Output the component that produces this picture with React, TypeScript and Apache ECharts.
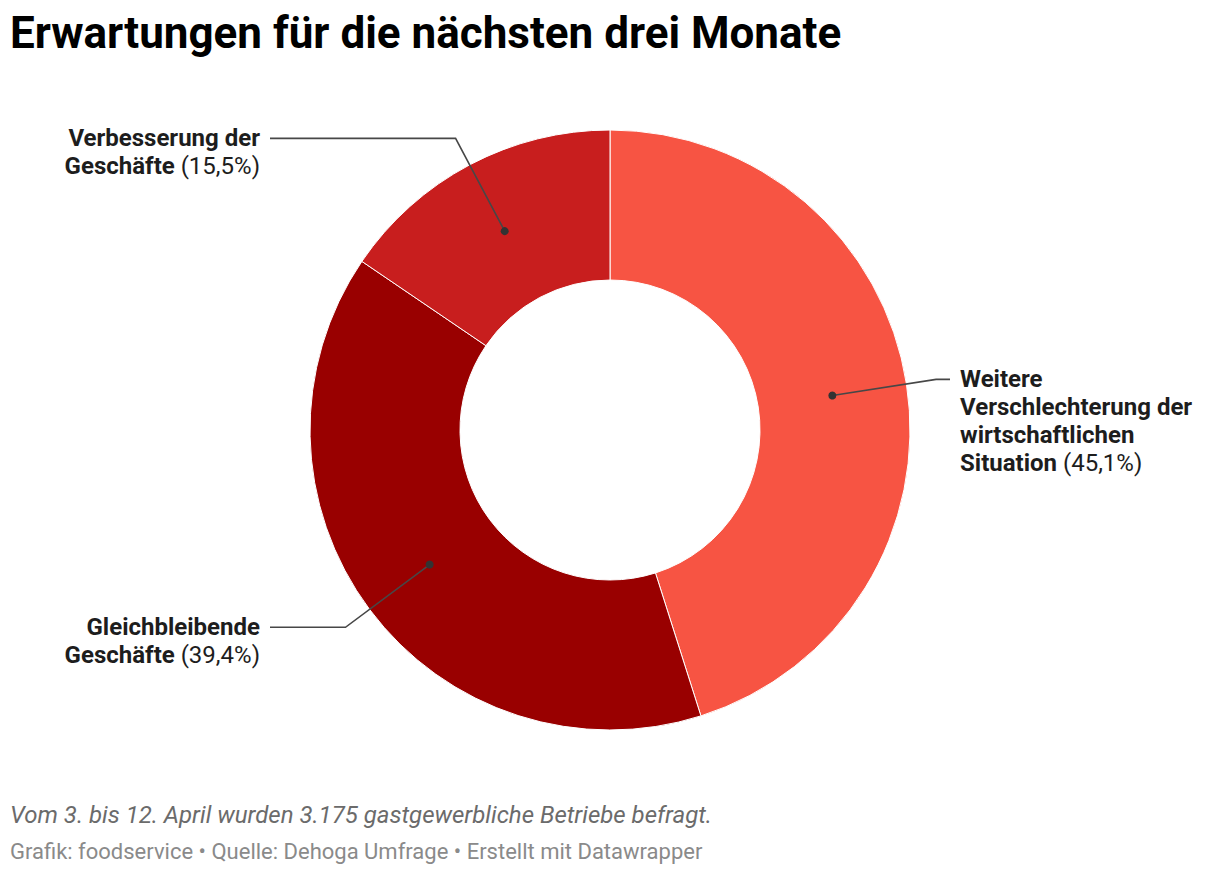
import { useEffect, useRef } from "react";
import * as echarts from "echarts";

// Werte aus der Grafik (Uhrzeigersinn ab 12 Uhr)
const categories = [
  "Weitere\nVerschlechterung der\nwirtschaftlichen\nSituation",
  "Gleichbleibende\nGeschäfte",
  "Verbesserung der\nGeschäfte",
];
const shares = [45.1, 39.4, 15.5];
const sliceColors = ["#f75443", "#990000", "#c81e1e"];

const titleText = "Erwartungen für die nächsten drei Monate";
const noteText = "Vom 3. bis 12. April wurden 3.175 gastgewerbliche Betriebe befragt.";
const sourceText = "Grafik: foodservice • Quelle: Dehoga Umfrage • Erstellt mit Datawrapper";

const CX = 610;
const CY = 430;
const R_IN = 150;
const R_OUT = 300;
const R_DOT = 225;
const R_ELBOW = 330;
const LINE_REACH = 340;

const fmt = (v: number) => v.toFixed(1).replace(".", ",") + "%";

// Winkel der Segmentmitte, im Uhrzeigersinn ab oben
const midAngle = (i: number) => {
  const total = shares.reduce((a, b) => a + b, 0);
  const before = shares.slice(0, i).reduce((a, b) => a + b, 0);
  return ((before + shares[i] / 2) / total) * Math.PI * 2;
};
const polar = (a: number, r: number) => [CX + r * Math.sin(a), CY - r * Math.cos(a)];

const leaderPoints = (i: number) => {
  const a = midAngle(i);
  const right = Math.sin(a) > 0;
  const dot = polar(a, R_DOT);
  const elbow = polar(a, R_ELBOW);
  const endX = right ? CX + LINE_REACH : CX - LINE_REACH;
  return { right, dot, elbow, end: [endX, elbow[1]] };
};

const App = () => {
  const chartRef = useRef<HTMLDivElement>(null);

  useEffect(() => {
    if (!chartRef.current) return;
    const chart = echarts.init(chartRef.current, null, { renderer: "svg" });

    const labelFormatter = (p: any) => {
      const lines = String(p.name).split("\n");
      const last = lines.pop();
      const head = lines.map((l) => `{b|${l}}`).join("\n");
      return (head ? head + "\n" : "") + `{b|${last}}{v|\u00a0(${fmt(p.value)})}`;
    };

    const option: echarts.EChartsOption = {
      animation: false,
      textStyle: { fontFamily: "Roboto" },
      graphic: [
        {
          type: "text",
          x: 10,
          y: 33,
          style: {
            text: titleText,
            fontFamily: "Roboto",
            fontSize: 44,
            fontWeight: 700,
            fill: "#000000",
            verticalAlign: "middle",
          },
        },
        {
          type: "text",
          x: 10,
          y: 815,
          style: {
            text: noteText,
            fontFamily: "Roboto",
            fontStyle: "italic",
            fontSize: 24,
            fill: "#6b6b6b",
            verticalAlign: "middle",
          },
        },
        {
          type: "text",
          x: 10,
          y: 851,
          style: {
            text: sourceText,
            fontFamily: "Roboto",
            fontSize: 22,
            fill: "#8a8a8a",
            verticalAlign: "middle",
          },
        },
        ...shares.map((_, i) => {
          const { dot, elbow, end } = leaderPoints(i);
          return {
            type: "polyline" as const,
            z: 100,
            shape: { points: [dot, elbow, end] },
            style: { stroke: "#474747", lineWidth: 1.6, fill: "none" },
          };
        }),
        ...shares.map((_, i) => {
          const { dot } = leaderPoints(i);
          return {
            type: "circle" as const,
            z: 101,
            shape: { cx: dot[0], cy: dot[1], r: 4 },
            style: { fill: "#333333" },
          };
        }),
      ],
      series: [
        {
          type: "pie",
          center: [CX, CY],
          radius: [R_IN, R_OUT],
          startAngle: 90,
          clockwise: true,
          silent: true,
          itemStyle: { borderColor: "#ffffff", borderWidth: 1 },
          data: shares.map((v, i) => ({
            name: categories[i],
            value: v,
            itemStyle: { color: sliceColors[i] },
          })),
          label: {
            show: true,
            position: "outside",
            formatter: labelFormatter,
            rich: {
              b: {
                fontFamily: "Roboto",
                fontSize: 24,
                fontWeight: 700,
                lineHeight: 28,
                color: "#1d1d1d",
              },
              v: {
                fontFamily: "Roboto",
                fontSize: 24,
                fontWeight: 400,
                lineHeight: 28,
                color: "#1d1d1d",
              },
            },
          },
          labelLine: { show: false },
          labelLayout: (params: any) => {
            const { right, elbow, end } = leaderPoints(params.dataIndex);
            return {
              x: right ? end[0] + 10 : end[0] - 10,
              y: elbow[1] - 14,
              align: right ? "left" : "right",
              verticalAlign: "top",
            };
          },
        },
      ],
    };

    chart.setOption(option);
    return () => chart.dispose();
  }, []);

  return (
    <div
      ref={chartRef}
      style={{ position: "fixed", left: 0, top: 0, width: 1220, height: 874, background: "#ffffff" }}
    />
  );
};

export default App;
